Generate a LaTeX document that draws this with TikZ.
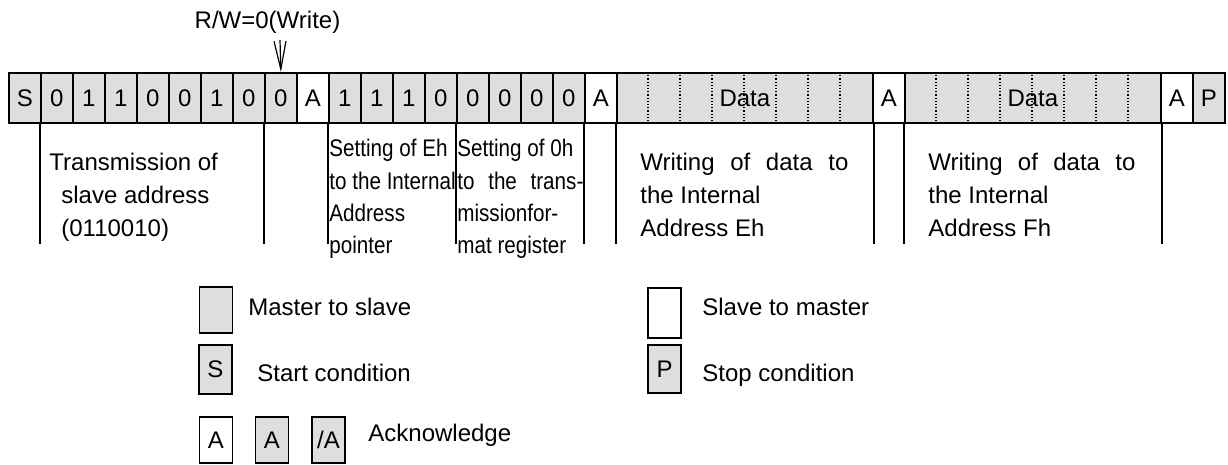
\documentclass[tikz,border=0pt]{standalone}
\usepackage{fontspec}
\setmainfont{Liberation Sans}
\newfontfamily\narrowfont[FakeStretch=0.86]{Liberation Sans}
\usepackage{tikz}
\usetikzlibrary{arrows.meta}
\definecolor{cellgray}{RGB}{222,222,222}
\tikzstyle{bus}=[x=0.5pt, y=-0.5pt, font=\fontsize{12pt}{16.25pt}\selectfont]
\tikzstyle{ms}=[rectangle, draw, line width=0.9pt, fill=cellgray, minimum width=16pt, minimum height=25pt, inner sep=0pt, anchor=north west]
\tikzstyle{sm}=[ms, fill=white]
\tikzstyle{datafield}=[ms, minimum width=128pt]
\tikzstyle{dotsep}=[densely dotted, line width=0.6pt]
\tikzstyle{drop}=[-, line width=0.7pt]
\tikzstyle{note}=[inner sep=0pt, align=left, anchor=base west]
\tikzstyle{notesmall}=[note, font=\narrowfont\fontsize{12pt}{16.15pt}\selectfont]
\tikzstyle{legbox}=[rectangle, draw, line width=0.6pt, fill=cellgray, minimum width=16.5pt, minimum height=23pt, inner sep=0pt]
\tikzstyle{rwarrow}=[-{Straight Barb[length=14pt, width=6pt]}, line width=0.6pt]
\newcommand{\barX}{8}
\newcommand{\barY}{72}
\newcommand{\cellW}{32}
\newcommand{\dropL}{120}

\begin{document}
\begin{tikzpicture}[bus]
	\useasboundingbox (0,0) rectangle (1228,465);

	%The address and pointer bits
	\foreach \bit/\fillc [count=\i from 0] in {S/cellgray,0/cellgray,1/cellgray,1/cellgray,0/cellgray,0/cellgray,1/cellgray,0/cellgray,0/cellgray,A/white,1/cellgray,1/cellgray,1/cellgray,0/cellgray,0/cellgray,0/cellgray,0/cellgray,0/cellgray,A/white}
		\draw (\barX+\cellW*\i,\barY) node[ms, fill=\fillc] (c\i) {\bit};

	%The data bytes
	\draw (616,\barY) node[datafield] (d1) {Data};
	\draw (872,\barY) node[sm] (a2) {A};
	\draw (904,\barY) node[datafield] (d2) {Data};
	\draw (1160,\barY) node[sm] (a3) {A};
	\draw (1192,\barY) node[ms] (p) {P};
	\foreach \k in {1,...,7} {
		\draw[dotsep] (616+\cellW*\k,\barY) -- (616+\cellW*\k,\barY+50);
		\draw[dotsep] (904+\cellW*\k,\barY) -- (904+\cellW*\k,\barY+50);
	}

	%The R/W bit
	\draw (267.5,28.3) node[note, anchor=base] (rw) {R/W=0(Write)};
	\coordinate (rwtop) at (280,40);
	\draw[rwarrow] (rwtop) -- (c8.north);

	%The field separators
	\foreach \n in {c1.south west, c8.south west, c10.south west, c14.south west, c18.south west, d1.south west, d1.south east, d2.south west, d2.south east}
		\draw[drop] (\n) -- +(0,\dropL);

	%The field texts (anchored at the baseline of the last line)
	\draw (49,236) node[note] (tslave) {Transmission of\\\hspace*{6pt}slave address\\\hspace*{6pt}(0110010)};
	\draw (329,253.6) node[notesmall] (tptr) {Setting of Eh\\to the Internal\\Address\\pointer};
	\draw (457,253.6) node[notesmall] (tfmt) {Setting of 0h\\\makebox[63pt][s]{to the trans-}\\missionfor-\\mat register};
	\draw (640,236) node[note] (twe) {\makebox[104pt][s]{Writing of data to}\\the Internal\\Address Eh};
	\draw (928,236) node[note] (twf) {\makebox[103.5pt][s]{Writing of data to}\\the Internal\\Address Fh};

	%The legend
	\draw (216,310) node[legbox] (kms) {};
	\draw (248,315) node[note] (tms) {Master to slave};
	\draw (664.5,313) node[legbox, fill=white, minimum height=25pt] (ksm) {};
	\draw (702,315) node[note] (tsm) {Slave to master};
	\draw (215.5,369.5) node[legbox, minimum height=24.5pt] (ks) {S};
	\draw (257,381.5) node[note] (ts) {Start condition};
	\draw (664.5,369) node[legbox, minimum height=24pt] (kp) {P};
	\draw (702,381.5) node[note] (tp) {Stop condition};
	\draw (216,440) node[legbox, fill=white] (ka1) {A};
	\draw (272,440) node[legbox] (ka2) {A};
	\draw (328.5,440) node[legbox] (ka3) {/A};
	\draw (368,441) node[note] (tack) {Acknowledge};
\end{tikzpicture}
\end{document}
